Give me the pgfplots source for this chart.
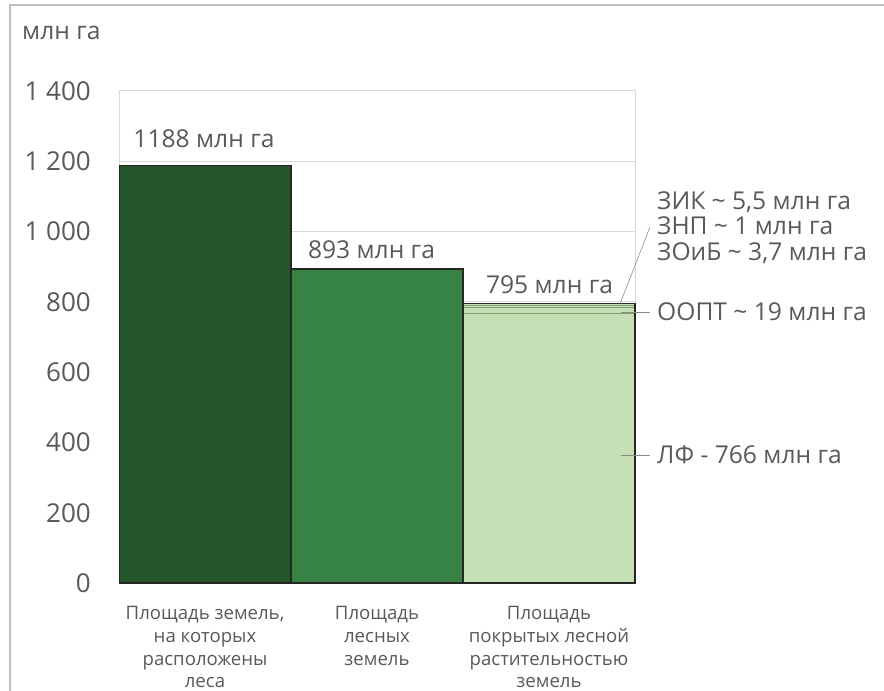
\documentclass[border=0pt]{standalone}
\usepackage{pgfplots}
\pgfplotsset{compat=1.18}
\usepackage{fontspec}
\setmainfont{Open Sans}

\definecolor{darkgr}{RGB}{36,86,43}
\definecolor{midgr}{RGB}{54,131,67}
\definecolor{lightgr}{RGB}{197,224,180}
\definecolor{segline}{RGB}{125,160,112}
\definecolor{txt}{RGB}{89,89,89}
\definecolor{gridc}{RGB}{217,217,217}
\definecolor{framec}{RGB}{190,190,190}
\definecolor{edge}{RGB}{38,38,38}

\pgfplotsset{
  common/.style={
    at={(119pt,108pt)}, anchor=south west,
    scale only axis, width=516pt, height=492pt,
    xmin=0, xmax=3, ymin=0, ymax=1400,
  },
}

\begin{document}
\begin{tikzpicture}
\path[use as bounding box] (0,0) rectangle (884pt,691pt);
\draw[framec, line width=1.6pt] (10pt,0pt) -- (10pt,686pt) -- (884pt,686pt);

% frame, grid and the two full bars
\begin{axis}[common,
  ybar, bar width=1, bar shift=0pt,
  ytick={0,200,...,1400},
  xtick={0.5,1.5,2.5},
  xticklabels={{Площадь земель,\\на которых\\расположены\\леса},
               {Площадь\\лесных\\земель},
               {Площадь\\покрытых лесной\\растительностью\\земель}},
  ymajorgrids, major grid style={gridc, line width=1pt},
  axis line style={gridc, line width=1pt},
  major tick length=0pt,
  /pgf/number format/.cd, 1000 sep={\ }, assume math mode=true,
  /pgfplots/.cd,
  yticklabel style={font=\fontsize{26}{30}\selectfont, text=txt, anchor=east, inner sep=0pt, xshift=-28pt},
  xticklabel style={font=\fontsize{18.6}{22.8}\selectfont, text=txt, align=center, anchor=north, inner sep=0pt, yshift=-23pt},
]
\addplot[fill=darkgr, draw=edge, line width=1.5pt] coordinates {(0.5,1188)};
\addplot[fill=midgr, draw=edge, line width=1.5pt] coordinates {(1.5,893)};
\end{axis}

% components of the covered-forest bar
\begin{axis}[common, hide axis, ybar stacked, bar width=1]
\addplot[fill=lightgr, draw=segline, line width=0.7pt] coordinates {(2.5,766)};
\addplot[fill=lightgr, draw=segline, line width=0.7pt] coordinates {(2.5,19)};
\addplot[fill=lightgr, draw=segline, line width=0.7pt] coordinates {(2.5,3.7)};
\addplot[fill=lightgr, draw=segline, line width=0.7pt] coordinates {(2.5,1)};
\addplot[fill=lightgr, draw=segline, line width=0.7pt] coordinates {(2.5,5.5)};
\end{axis}

% outline of the total, value labels and callouts
\begin{axis}[common, hide axis, clip=false, ybar, bar width=1, bar shift=0pt]
\addplot[fill=none, draw=edge, line width=1.5pt] coordinates {(2.5,795.2)};

\begin{scope}[every node/.style={font=\fontsize{24.6}{28}\selectfont, text=txt, inner sep=0pt}]
\node[anchor=base] at (axis cs:0.494,1238) {1188 млн га};
\node[anchor=base] at (axis cs:1.468,922) {893 млн га};
\node[anchor=base] at (axis cs:2.503,825) {795 млн га};

\node[anchor=west] at (axis cs:-0.564,1565) {млн га};

\draw[txt!70, line width=0.6pt] (axis cs:2.92,364) -- (axis cs:3.087,364);
\node[anchor=west] at (axis cs:3.128,364) {ЛФ - 766 млн га};

\draw[txt!70, line width=0.6pt] (axis cs:2.92,771) -- (axis cs:3.087,771);
\node[anchor=west] at (axis cs:3.128,771) {ООПТ \textasciitilde{} 19 млн га};

\draw[txt!70, line width=0.6pt] (axis cs:2.913,794) -- (axis cs:3.087,1013);
\node[anchor=west] at (axis cs:3.128,1083) {ЗИК \textasciitilde{} 5,5 млн га};
\node[anchor=west] at (axis cs:3.128,1017) {ЗНП \textasciitilde{} 1 млн га};
\node[anchor=west] at (axis cs:3.128,939) {ЗОиБ \textasciitilde{} 3,7 млн га};
\end{scope}
\end{axis}
\end{tikzpicture}
\end{document}
